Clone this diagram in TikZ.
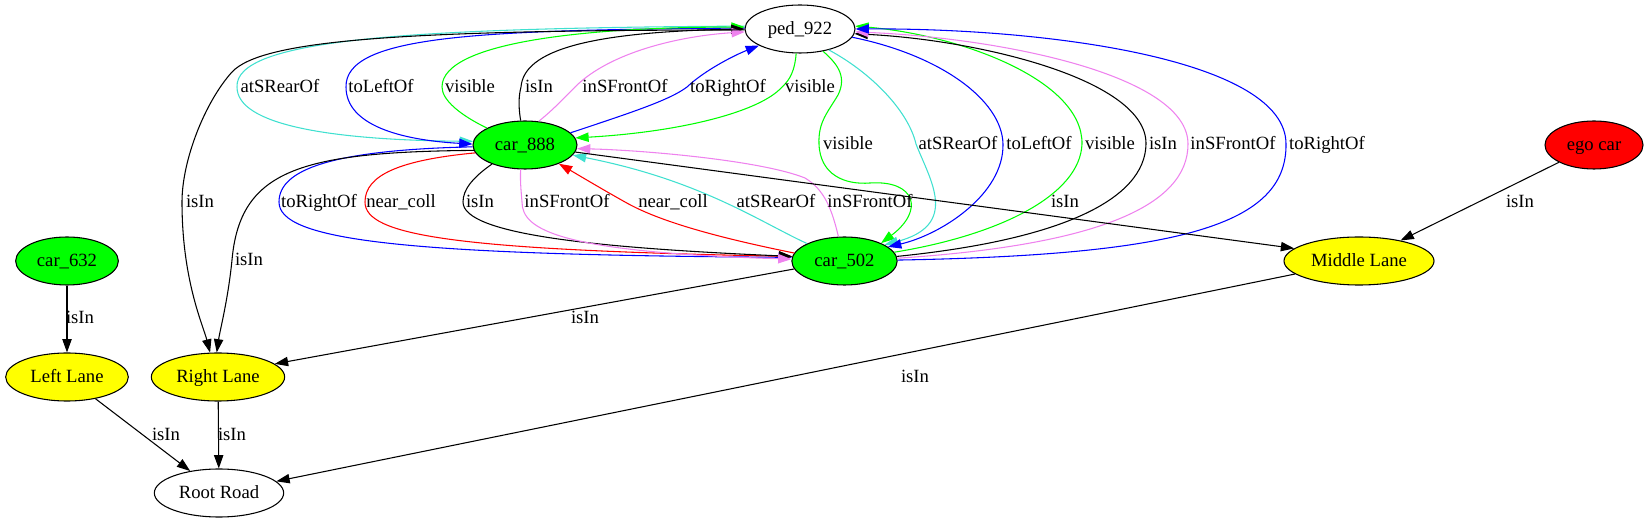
\documentclass[tikz,border=0pt]{standalone}
\usepackage{fontspec}
\setmainfont{Liberation Serif}
\newfontfamily\gvserif{Liberation Serif}
\usepackage{xcolor}
\usepackage{tikz}
\usetikzlibrary{shapes.geometric,arrows.meta}

\definecolor{gvgreen}{HTML}{00FF00}
\definecolor{gvturq}{HTML}{40E0D0}
\definecolor{gvviolet}{HTML}{EE82EE}
\definecolor{gvblue}{HTML}{0000FF}
\definecolor{gvred}{HTML}{FF0000}
\definecolor{gvyellow}{HTML}{FFFF00}

\newcommand{\gvfont}{\gvserif\fontsize{14pt}{16pt}\selectfont}

\tikzset{
  obj/.style={ellipse,draw,line width=0.8pt,minimum height=36pt,inner sep=0pt,
    font=\gvfont,text height=10.5pt,text depth=2.5pt},
  car/.style={obj,fill=gvgreen},
  lane/.style={obj,fill=gvyellow},
  lbl/.style={inner sep=0pt,font=\gvfont,text height=10.5pt,text depth=2.5pt},
  rel/.style={line width=0.8pt,-{Triangle[length=10pt,width=7pt]}},
}

\begin{document}
\begin{tikzpicture}[x=0.75pt,y=-0.75pt]
\useasboundingbox (0,0) rectangle (1645,523);

\node[obj,minimum width=82.5pt](ped)at(800,29){ped\_922};
\node[car,minimum width=78pt](car888)at(525,145){car\_888};
\node[obj,fill=gvred,minimum width=73.5pt](ego)at(1594,145){ego car};
\node[car,minimum width=79pt](car502)at(844.5,261){car\_502};
\node[lane,minimum width=112.5pt](midlane)at(1359,261){Middle Lane};
\node[car,minimum width=77pt](car632)at(67,261){car\_632};
\node[lane,minimum width=92pt](leftlane)at(67,377){Left Lane};
\node[lane,minimum width=100pt](rightlane)at(218,377){Right Lane};
\node[obj,minimum width=97pt](root)at(219,493){Root Road};

% ped_922 and car_888
\draw[rel,gvturq](ped.177)..controls(400,28)and(235,40)..(237,87)
  ..controls(237,125)and(330,140)..(car888.176);
\draw[rel,gvblue](ped.179)..controls(480,30)and(345,35)..(346,87)
  ..controls(346,125)and(400,140)..(car888.179);
\draw[rel,gvgreen](car888.156)..controls(460,115)and(442,100)..(442,87)
  ..controls(442,40)and(600,27)..(ped.178);
\draw[rel](car888.100)..controls(518,105)and(519,95)..(521,87)
  ..controls(524,50)and(590,32)..(ped.180);
\draw[rel,gvviolet](car888.60)..controls(553,110)and(565,97)..(575,87)
  ..controls(610,52)and(680,36)..(ped.183);
\draw[rel,gvblue](car888.15)..controls(630,113)and(670,100)..(687,87)
  ..controls(705,70)and(735,55)..(ped.202);
\draw[rel,gvgreen](ped.261)..controls(795,70)and(790,80)..(782,87)
  ..controls(760,112)and(680,132)..(car888.8);

% ped_922 and car_502
\draw[rel,gvgreen](ped.316)..controls(835,62)and(848,75)..(838,95)
  ..controls(828,112)and(818,122)..(819,144)
  ..controls(820,175)and(845,185)..(870,183)
  ..controls(915,180)and(925,210)..(car502.26);
\draw[rel,gvturq](ped.324)..controls(870,72)and(908,110)..(916,144)
  ..controls(930,180)and(960,225)..(car502.22);
\draw[rel,gvblue](ped.351)..controls(940,55)and(1002,100)..(1003,144)
  ..controls(1004,195)and(940,235)..(car502.18);
\draw[rel,gvgreen](car502.10)..controls(1000,235)and(1080,195)..(1082,144)
  ..controls(1083,80)and(960,35)..(ped.3);
\draw[rel](car502.5)..controls(1060,240)and(1145,200)..(1146,144)
  ..controls(1147,80)and(980,40)..(ped.355);
\draw[rel,gvviolet](car502.3)..controls(1100,245)and(1188,205)..(1188,144)
  ..controls(1188,75)and(1000,38)..(ped.357);
\draw[rel,gvblue](car502.1)..controls(1180,255)and(1287,225)..(1286,144)
  ..controls(1286,60)and(1050,28)..(ped.0);

% car_888 and car_502
\draw[rel,gvblue](car888.182)..controls(330,150)and(279,170)..(279,202)
  ..controls(279,240)and(400,255)..(car502.176);
\draw[rel,gvred](car888.189)..controls(400,160)and(365,175)..(365,202)
  ..controls(365,235)and(450,250)..(car502.175);
\draw[rel](car888.210)..controls(472,178)and(463,190)..(463,202)
  ..controls(463,235)and(600,248)..(car502.175);
\draw[rel,gvviolet](car888.260)..controls(520,180)and(521,190)..(522,202)
  ..controls(522,230)and(560,252)..(car502.178);
\draw[rel,gvred](car502.171)..controls(720,238)and(660,222)..(625,202)
  ..controls(600,188)and(575,173)..(car888.331);
\draw[rel,gvturq](car502.155)..controls(760,222)and(700,180)..(car888.348);
\draw[rel,gvviolet](car502.104)..controls(832,210)and(825,190)..(805,178)
  ..controls(760,160)and(640,150)..(car888.356);

% lanes and road
\draw[rel](ped.181)..controls(400,30)and(262,40)..(232,72)
  ..controls(205,102)and(182,160)..(182,202)
  ..controls(182,280)and(203,325)..(rightlane.108);
\draw[rel](car888.186)..controls(300,152)and(240,170)..(232,260)
  ..controls(228,300)and(220,330)..(rightlane.93);
\draw[rel](car888.352)--(midlane.169);
\draw[rel](car502.189)--(rightlane.13);
\draw[rel](ego)--(midlane);
\draw[rel](midlane)--(root);
\draw[rel](car632)--(leftlane);
\draw[rel](leftlane)--(root);
\draw[rel](rightlane)--(root);

\node[lbl](l01)at(280,87){atSRearOf};
\node[lbl](l02)at(381,87){toLeftOf};
\node[lbl](l03)at(470,87){visible};
\node[lbl](l04)at(539,87){isIn};
\node[lbl](l05)at(625,87){inSFrontOf};
\node[lbl](l06)at(728,87){toRightOf};
\node[lbl](l07)at(810,87){visible};
\node[lbl](l08)at(848,144){visible};
\node[lbl](l09)at(958,144){atSRearOf};
\node[lbl](l10)at(1039,144){toLeftOf};
\node[lbl](l11)at(1110,144){visible};
\node[lbl](l12)at(1163,144){isIn};
\node[lbl](l13)at(1233,144){inSFrontOf};
\node[lbl](l14)at(1327,144){toRightOf};
\node[lbl](l15)at(200,202){isIn};
\node[lbl](l16)at(319,202){toRightOf};
\node[lbl](l17)at(401,202){near\_coll};
\node[lbl](l18)at(480,202){isIn};
\node[lbl](l19)at(567,202){inSFrontOf};
\node[lbl](l20)at(673,202){near\_coll};
\node[lbl](l21)at(776,202){atSRearOf};
\node[lbl](l22)at(870,202){inSFrontOf};
\node[lbl](l23)at(1065,202){isIn};
\node[lbl](l24)at(1520,202){isIn};
\node[lbl](l25)at(249,260){isIn};
\node[lbl](l26)at(80,318){isIn};
\node[lbl](l27)at(585,318){isIn};
\node[lbl](l28)at(915,377){isIn};
\node[lbl](l29)at(166,435){isIn};
\node[lbl](l30)at(232,435){isIn};
\end{tikzpicture}
\end{document}
